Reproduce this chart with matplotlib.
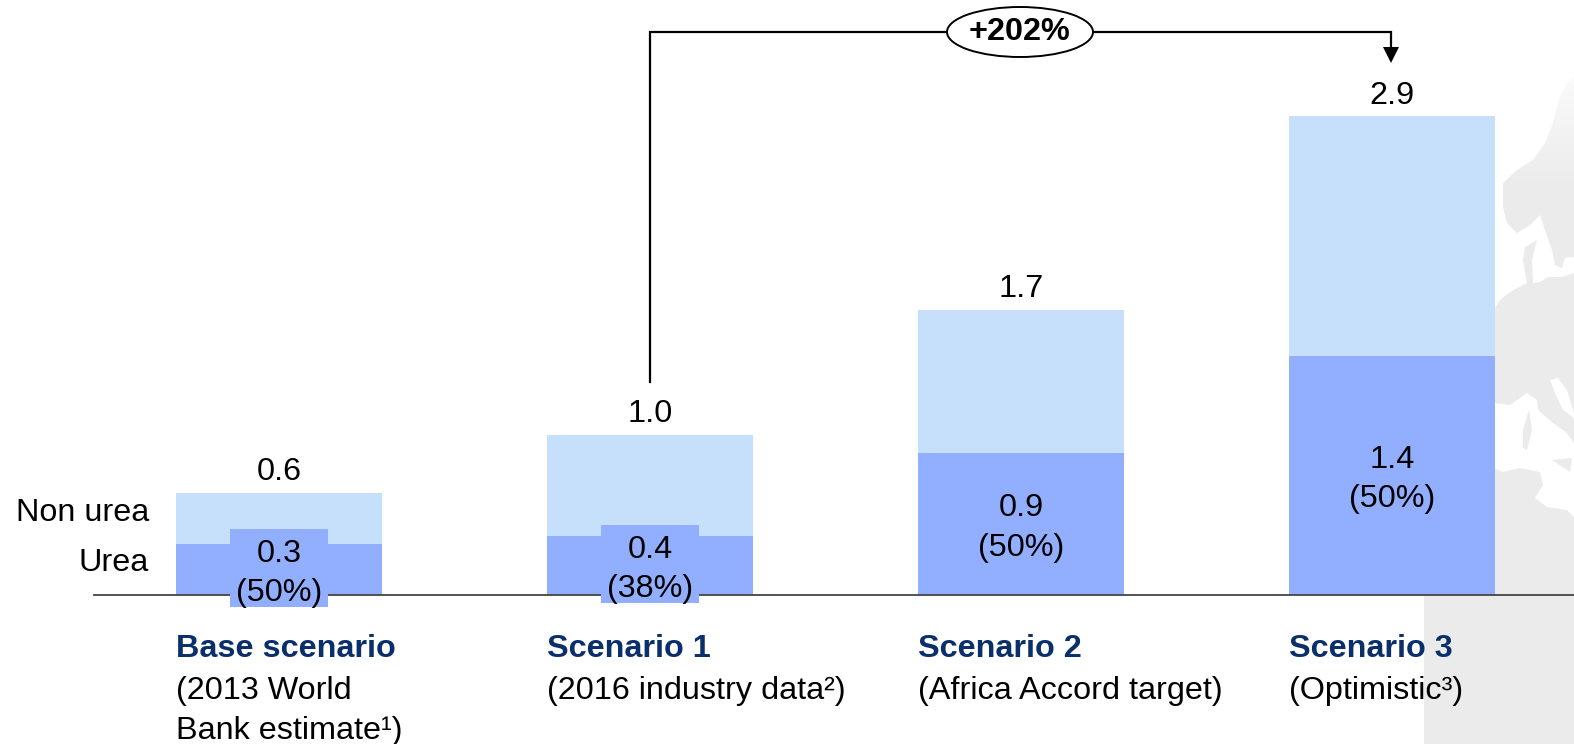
#!/usr/bin/env python
import matplotlib
matplotlib.use("Agg")
import matplotlib.pyplot as plt
import numpy as np
from matplotlib.patches import Ellipse, Polygon, Rectangle

plt.rcParams["font.family"] = ["Liberation Sans", "DejaVu Sans"]

# data
scenarios = ["Base scenario", "Scenario 1", "Scenario 2", "Scenario 3"]
details = ["(2013 World\nBank estimate\u00b9)", "(2016 industry data\u00b2)",
           "(Africa Accord target)", "(Optimistic\u00b3)"]
urea = [0.31, 0.36, 0.86, 1.45]
non_urea = [0.31, 0.61, 0.87, 1.45]
totals = ["0.6", "1.0", "1.7", "2.9"]
urea_labels = ["0.3\n(50%)", "0.4\n(38%)", "0.9\n(50%)", "1.4\n(50%)"]
growth = "+202%"

LIGHT = "#c6e0fc"
DARK = "#92aeff"
NAVY = "#0a2f6b"
MAP = "#ebebeb"
FS = 23.3

fig = plt.figure(figsize=(15.74, 7.44), dpi=100)

# overlay in pixels, for the map and the decorations
bg = fig.add_axes([0, 0, 1, 1], zorder=0)
bg.axis("off")

# faint map of Europe behind the last bar
land = [(1574, 78), (1568, 82), (1562, 93), (1558, 103), (1553, 123), (1545, 143), (1533, 160),
        (1517, 170), (1503, 183), (1503, 207), (1507, 223), (1517, 233), (1530, 225), (1540, 215),
        (1545, 230), (1552, 250), (1555, 265), (1562, 268), (1565, 258), (1574, 257), (1574, 273),
        (1562, 277), (1548, 277), (1540, 282), (1533, 283), (1532, 260), (1537, 240), (1525, 247),
        (1523, 260), (1527, 283), (1510, 292), (1500, 300), (1494, 310), (1494, 596), (1424, 596),
        (1424, 744), (1574, 744)]
bg.add_patch(Polygon(land, closed=True, fc=MAP, ec="none"))
med = [(1494, 403), (1510, 405), (1527, 393), (1537, 400), (1538, 410), (1553, 423), (1567, 433),
       (1574, 443), (1574, 517), (1567, 510), (1547, 507), (1535, 498), (1543, 485), (1540, 472),
       (1520, 468), (1503, 472), (1494, 468)]
bg.add_patch(Polygon(med, closed=True, fc="white", ec="none"))
adriatic = [(1550, 380), (1558, 378), (1567, 390), (1574, 413), (1574, 418), (1563, 410), (1555, 393)]
bg.add_patch(Polygon(adriatic, closed=True, fc="white", ec="none"))
for island in ([(1523, 430), (1529, 410), (1532, 430), (1527, 450), (1523, 448)],
               [(1552, 460), (1572, 458), (1570, 472)]):
    bg.add_patch(Polygon(island, closed=True, fc=MAP, ec="none"))

# the map fades out towards the north
fade = np.ones((100, 1, 4))
fade[:, 0, 3] = np.linspace(0.8, 0, 100)
bg.imshow(fade, extent=(1494, 1574, 190, 70), aspect="auto", zorder=3)
bg.set_xlim(0, 1574)
bg.set_ylim(744, 0)

ax = fig.add_axes([0, 0, 1, 1], zorder=1)
ax.patch.set_alpha(0)
ax.set_xlim(-279 / 371, 1295 / 371)
ax.set_ylim(-149 / 165, 595 / 165)
ax.axis("off")

x = range(len(scenarios))
ax.bar(x, urea, width=0.555, color=DARK, zorder=2)
ax.bar(x, non_urea, width=0.555, bottom=urea, color=LIGHT, zorder=2)
ax.axhline(0, xmin=94 / 1574, color="#444444", lw=1.3, zorder=3)

for i in x:
    top = urea[i] + non_urea[i]
    ax.annotate(totals[i], (i, top), xytext=(0, 4), textcoords="offset points",
                ha="center", va="bottom", fontsize=FS, color="black", zorder=5)
    # the label box of the two small bars sticks out of the bar
    if i < 2:
        ax.add_patch(Rectangle((i - 0.131, urea[i] / 2 + 0.009 - 0.237), 0.262, 0.474,
                               fc=DARK, ec="none", zorder=3.5))
    ax.annotate(urea_labels[i], (i, urea[i] / 2), xytext=(0, -3), textcoords="offset points",
                ha="center", va="center", fontsize=FS, color="black", linespacing=1.42, zorder=4)
    bg.text(176 + 371 * i, 657, scenarios[i], ha="left", va="baseline",
            fontsize=FS, fontweight="bold", color=NAVY)
    bg.text(176 + 371 * i, 699, details[i].split("\n")[0], ha="left", va="baseline",
            fontsize=FS, color="black")
    if "\n" in details[i]:
        bg.text(176 + 371 * i, 739, details[i].split("\n")[1], ha="left", va="baseline",
                fontsize=FS, color="black")

bg.text(149, 521, "Non urea", ha="right", va="baseline", fontsize=FS)
bg.text(149, 571, "Urea", ha="right", va="baseline", fontsize=FS)

# growth bracket
ax2 = fig.add_axes([0, 0, 1, 1], zorder=2)
ax2.patch.set_alpha(0)
ax2.set_xlim(0, 1574)
ax2.set_ylim(744, 0)
ax2.axis("off")
ax2.plot([650, 650, 1391, 1391], [382, 32, 32, 48], color="black", lw=1.6, solid_joinstyle="miter")
ax2.add_patch(Polygon([(1383, 47), (1399, 47), (1391, 63)], closed=True, fc="black", ec="none"))
ax2.add_patch(Ellipse((1020, 32), 146, 50, fc="white", ec="black", lw=1.4, zorder=3))
ax2.text(1020, 32, growth, ha="center", va="center", fontsize=FS, fontweight="bold", zorder=4)

fig.savefig("out.png", dpi=100)
